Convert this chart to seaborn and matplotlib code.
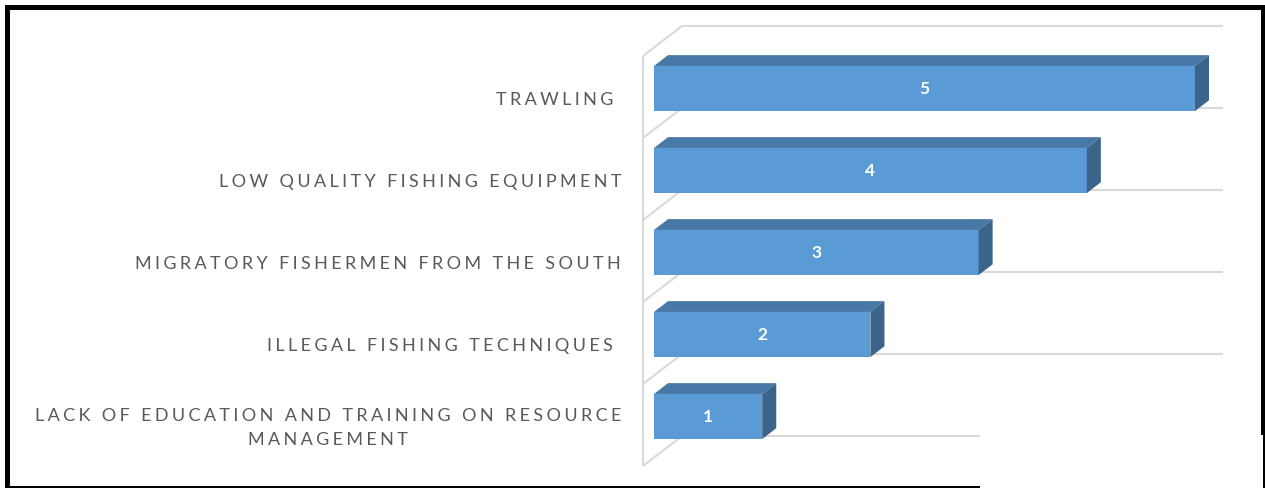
import numpy as np
import pandas as pd
import matplotlib
matplotlib.use("Agg")
import matplotlib.pyplot as plt
from matplotlib.patches import Polygon, Rectangle
import seaborn as sns

# ---- data -------------------------------------------------------------
causes = [
    "TRAWLING ",
    "LOW QUALITY FISHING EQUIPMENT",
    "MIGRATORY FISHERMEN FROM THE SOUTH",
    "ILLEGAL FISHING TECHNIQUES ",
    "LACK OF EDUCATION AND TRAINING ON RESOURCE\nMANAGEMENT",
]
scores = [5, 4, 3, 2, 1]
axis_max = 5

# ---- styling ----------------------------------------------------------
FRONT = "#5B9BD5"
TOP = "#4878A5"
SIDE = "#3A6489"
GRID = "#D9D9D9"
LABEL = "#595959"

W, H = 1265, 489
DPI = 100
PX_X = 108.2      # pixels per score unit
PX_Y = 82.0       # pixels per category slot
ORIGIN_X = 654    # pixel column of score 0 on the bar front plane
FIRST_Y = 89.5    # pixel row of the first bar centre

sns.set_style("white")
plt.rcParams["font.family"] = ["Lato", "DejaVu Sans"]

fig = plt.figure(figsize=(W / DPI, H / DPI), dpi=DPI)
ax = fig.add_axes([0, 0, 1, 1])

df = pd.DataFrame({"cause": causes, "score": scores})
sns.barplot(data=df, x="score", y="cause", orient="h", color=FRONT,
            saturation=1, width=0.55, linewidth=0, ax=ax, zorder=2)

ax.set_xlim(-ORIGIN_X / PX_X, (W - ORIGIN_X) / PX_X)
ax.set_ylim((H - FIRST_Y) / PX_Y, -FIRST_Y / PX_Y)
ax.axis("off")

# oblique depth of the 3-D box, in data units per full wall depth
DX = 39 / PX_X
DY = -30 / PX_Y
BAR_FRONT, BAR_BACK = 0.28, 0.64


def at_depth(x, y, d):
    """Project a bar-plane point to depth d (0 = front wall, 1 = back wall)."""
    return x + (d - BAR_FRONT) * DX, y + (d - BAR_FRONT) * DY


n = len(causes)
bounds = np.arange(n + 1) - 0.5
grid_kw = dict(color=GRID, lw=1.5, zorder=0.5, solid_capstyle="butt")

# side wall: front edge and the oblique category separators
p0 = at_depth(0, bounds[0], 0)
p1 = at_depth(0, bounds[-1], 0)
ax.plot([p0[0], p1[0]], [p0[1], p1[1]], **grid_kw)
for b in bounds:
    a = at_depth(0, b, 0)
    c = at_depth(0, b, 1)
    ax.plot([a[0], c[0]], [a[1], c[1]], **grid_kw)
    # back wall gridline
    e = at_depth(axis_max, b, 1)
    ax.plot([c[0], e[0]], [c[1], e[1]], **grid_kw)

# 3-D faces for each bar, built from the bar patches
for patch, val in zip(ax.patches, scores):
    x0, y0 = patch.get_x(), patch.get_y()
    w, h = patch.get_width(), patch.get_height()
    ytop, ybot = min(y0, y0 + h), max(y0, y0 + h)
    x1 = x0 + w
    top = [at_depth(x0, ytop, BAR_FRONT), at_depth(x1, ytop, BAR_FRONT),
           at_depth(x1, ytop, BAR_BACK), at_depth(x0, ytop, BAR_BACK)]
    side = [at_depth(x1, ytop, BAR_FRONT), at_depth(x1, ybot, BAR_FRONT),
            at_depth(x1, ybot, BAR_BACK), at_depth(x1, ytop, BAR_BACK)]
    ax.add_patch(Polygon(top, closed=True, fc=TOP, ec="none", zorder=2))
    ax.add_patch(Polygon(side, closed=True, fc=SIDE, ec="none", zorder=2))
    ax.text(x0 + w / 2, (ytop + ybot) / 2, f"{val}", color="white",
            fontsize=12.5, fontweight="bold", ha="center", va="center",
            zorder=3)


def spaced(s):
    return "\n".join("\u2009\u200a".join(line) for line in s.split("\n"))


# category labels sit at the front wall plane
for i, lab in enumerate(causes):
    lx, ly = at_depth(-22 / PX_X, i + 2 / PX_Y, 0)
    ax.text(lx, ly, spaced(lab), ha="right", va="center",
            multialignment="center", color=LABEL, fontsize=13,
            linespacing=1.6, zorder=3)

# ---- frame --------------------------------------------------------------


def fx(px):
    return px / W


def fy(py):
    return 1 - py / H


fig.add_artist(Rectangle((fx(7.5), fy(488.5)), fx(1262.5) - fx(7.5),
                         fy(7.5) - fy(488.5), transform=fig.transFigure,
                         fill=False, ec="black", lw=5 * 72 / DPI, zorder=5))
fig.add_artist(Rectangle((fx(980), fy(H + 2)), fx(1262.5) - fx(980),
                         fy(436) - fy(H + 2), transform=fig.transFigure,
                         fc="white", ec="none", zorder=6))

fig.savefig("out.png", dpi=DPI, facecolor="white")
